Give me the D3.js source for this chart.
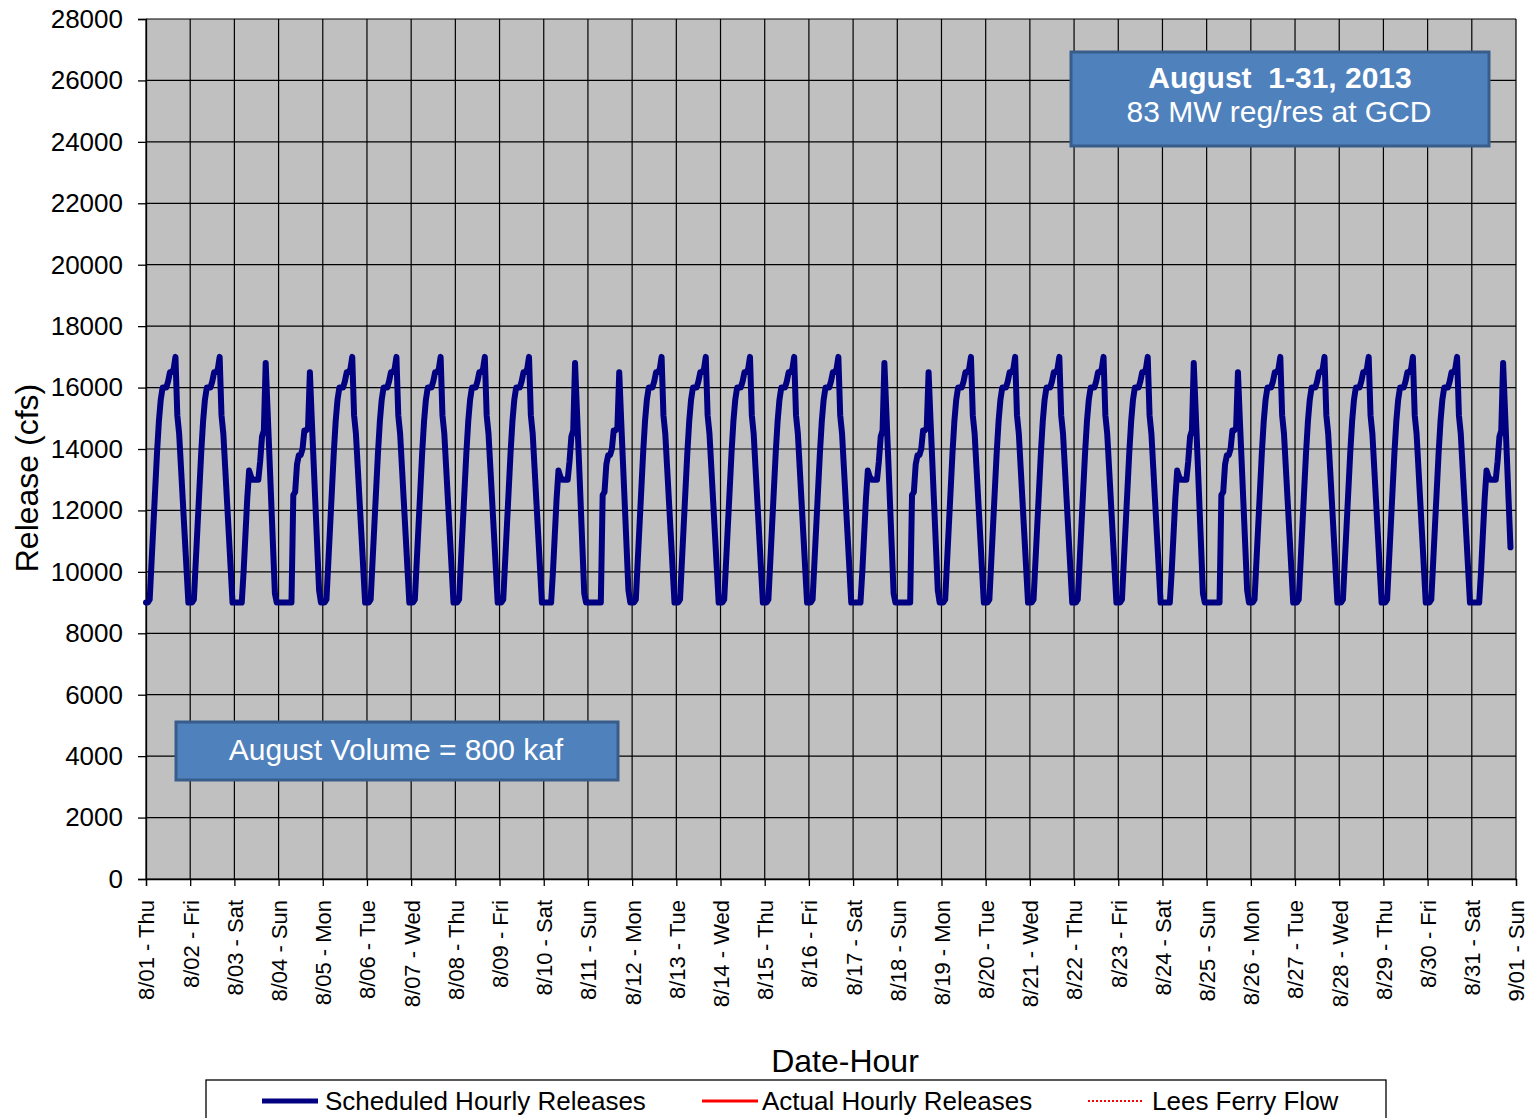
<!DOCTYPE html>
<html><head><meta charset="utf-8">
<script src="https://cdn.jsdelivr.net/npm/d3@7"></script>
<style>
body{margin:0;background:#fff;}
svg{display:block;font-family:"Liberation Sans",Arial,sans-serif;}
</style>
</head><body>
<svg id="chart" width="1531" height="1118"></svg>
<script>
// ---------- data ----------
const dayLabels = ["8/01 - Thu","8/02 - Fri","8/03 - Sat","8/04 - Sun","8/05 - Mon","8/06 - Tue","8/07 - Wed",
  "8/08 - Thu","8/09 - Fri","8/10 - Sat","8/11 - Sun","8/12 - Mon","8/13 - Tue","8/14 - Wed","8/15 - Thu",
  "8/16 - Fri","8/17 - Sat","8/18 - Sun","8/19 - Mon","8/20 - Tue","8/21 - Wed","8/22 - Thu","8/23 - Fri",
  "8/24 - Sat","8/25 - Sun","8/26 - Mon","8/27 - Tue","8/28 - Wed","8/29 - Thu","8/30 - Fri","8/31 - Sat","9/01 - Sun"];
const yTicks = [0,2000,4000,6000,8000,10000,12000,14000,16000,18000,20000,22000,24000,26000,28000];
// hourly scheduled release (cfs), hours 0..23
const weekdayProfile  = [9000,9000,9100,10300,11500,12700,13900,14900,15600,16000,16000,16000,16200,16500,16500,16600,17000,15100,14500,13400,12300,11200,10100,9000];
const saturdayProfile = [9000,9000,9000,9000,9000,10000,11200,12400,13300,13100,13000,13000,13000,13000,13600,14400,14600,16800,15300,13800,12300,10800,9300,9000];
const sundayProfile   = [9000,9000,9000,9000,9000,9000,9000,9000,12500,12600,13500,13800,13800,14000,14600,14600,14700,16500,15000,13600,12200,10800,9400,9000];
const lastDayPoints = 22;   // hours plotted on 8/31
const legendLabels = ["Scheduled Hourly Releases","Actual Hourly Releases","Lees Ferry Flow"];
const titleLines = ["August  1-31, 2013","83 MW reg/res at GCD"];
const volumeText = "August Volume = 800 kaf";

// build scheduled series from the day-type profiles
const scheduled = [];
dayLabels.slice(0,31).forEach((lab,i)=>{
  const dow = lab.slice(-3);
  const prof = dow==="Sat" ? saturdayProfile : dow==="Sun" ? sundayProfile : weekdayProfile;
  const n = i===30 ? lastDayPoints : 24;
  for(let h=0;h<n;h++) scheduled.push(prof[h]);
});

// ---------- chart ----------
const svg = d3.select("#chart");
const x = d3.scaleLinear().domain([0,31]).range([146,1516]);
const y = d3.scaleLinear().domain([0,28000]).range([879,19]);

svg.append("rect").attr("x",x(0)).attr("y",y(28000)).attr("width",x(31)-x(0)).attr("height",y(0)-y(28000)).attr("fill","#C0C0C0");

// grid
svg.append("g").selectAll("line").data(yTicks).join("line")
  .attr("x1",x(0)).attr("x2",x(31)).attr("y1",d=>y(d)).attr("y2",d=>y(d))
  .attr("stroke","#000").attr("stroke-width",1.2);
svg.append("g").selectAll("line").data(d3.range(0,32)).join("line")
  .attr("x1",d=>x(d)).attr("x2",d=>x(d)).attr("y1",y(0)).attr("y2",y(28000))
  .attr("stroke","#000").attr("stroke-width",1.2);

// y axis
const gy = svg.append("g").attr("transform",`translate(${x(0)},0)`)
  .call(d3.axisLeft(y).tickValues(yTicks).tickSize(8).tickPadding(15).tickFormat(d3.format("d")));
gy.selectAll("text").attr("font-size",26).attr("fill","#000").attr("font-family","Liberation Sans, Arial, sans-serif");
gy.selectAll("line,path").attr("stroke","#000").attr("stroke-width",1.3);

// x axis
const gx = svg.append("g").attr("transform",`translate(0,${y(0)})`)
  .call(d3.axisBottom(x).tickValues(d3.range(0,32)).tickSize(7).tickFormat(i=>dayLabels[i]));
gx.selectAll("line,path").attr("stroke","#000").attr("stroke-width",1.3);
gx.selectAll("text").attr("transform","rotate(-90)").attr("x",-21).attr("y",0).attr("dy","0.36em")
  .attr("text-anchor","end").attr("font-size",22).attr("fill","#000").attr("font-family","Liberation Sans, Arial, sans-serif");

// scheduled line
svg.append("path").datum(scheduled)
  .attr("d",d3.line().x((d,i)=>x(i/24)).y(d=>y(d)))
  .attr("fill","none").attr("stroke","#000080").attr("stroke-width",6)
  .attr("stroke-linejoin","round").attr("stroke-linecap","round");

// axis titles
svg.append("text").attr("transform","translate(38,478) rotate(-90)").attr("text-anchor","middle")
  .attr("font-size",32).attr("fill","#000").text("Release (cfs)");
svg.append("text").attr("x",845).attr("y",1072).attr("text-anchor","middle")
  .attr("font-size",32).attr("fill","#000").text("Date-Hour");

// title box
svg.append("rect").attr("x",1071).attr("y",52).attr("width",418).attr("height",94)
  .attr("fill","#4F81BD").attr("stroke","#385D8A").attr("stroke-width",3);
svg.append("text").attr("x",1280).attr("y",88).attr("text-anchor","middle").attr("font-size",30)
  .attr("font-weight","bold").attr("fill","#fff").attr("xml:space","preserve").style("white-space","pre").text(titleLines[0]);
svg.append("text").attr("x",1279).attr("y",122).attr("text-anchor","middle").attr("font-size",30)
  .attr("fill","#fff").text(titleLines[1]);

// volume box
svg.append("rect").attr("x",176).attr("y",722).attr("width",442).attr("height",58)
  .attr("fill","#4F81BD").attr("stroke","#385D8A").attr("stroke-width",3);
svg.append("text").attr("x",396).attr("y",760).attr("text-anchor","middle").attr("font-size",30)
  .attr("fill","#fff").text(volumeText);

// legend
svg.append("rect").attr("x",206).attr("y",1080).attr("width",1180).attr("height",60)
  .attr("fill","#fff").attr("stroke","#000").attr("stroke-width",1.3);
const legendPos = [{lx:262,tx:325,color:"#000080",w:5,dash:null},
                   {lx:702,tx:762,color:"#FF0000",w:3,dash:null},
                   {lx:1088,tx:1152,color:"#FF0000",w:2,dash:"2,2"}];
legendLabels.forEach((lab,i)=>{
  const p = legendPos[i];
  svg.append("line").attr("x1",p.lx).attr("x2",p.lx+56).attr("y1",1101).attr("y2",1101)
    .attr("stroke",p.color).attr("stroke-width",p.w).attr("stroke-dasharray",p.dash);
  svg.append("text").attr("x",p.tx).attr("y",1110).attr("font-size",26).attr("fill","#000").text(lab);
});
</script>
</body></html>
